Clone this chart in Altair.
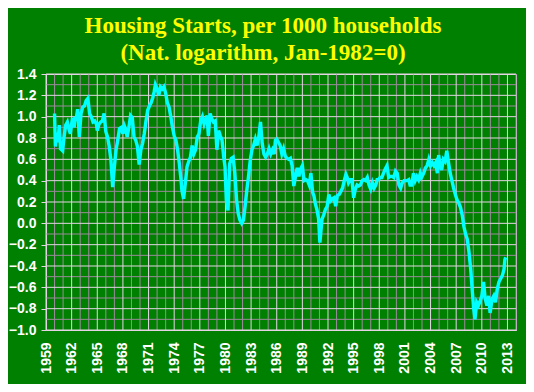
import altair as alt
import pandas as pd

title_lines = ["Housing Starts, per 1000 households", "(Nat. logarithm, Jan-1982=0)"]

years = [
    1960.0, 1960.1, 1960.25, 1960.4, 1960.55, 1960.7, 1960.95, 1961.1, 1961.3, 1961.5,
    1961.7, 1961.85, 1962.1, 1962.3, 1962.4, 1962.5, 1962.7, 1962.9, 1963.1, 1963.3,
    1963.5, 1963.7, 1963.9, 1964.1, 1964.3, 1964.5, 1964.7, 1964.9, 1965.0, 1965.2,
    1965.4, 1965.6, 1965.8, 1966.0, 1966.2, 1966.4, 1966.6, 1966.8, 1967.0, 1967.2,
    1967.4, 1967.6, 1967.8, 1968.0, 1968.15, 1968.3, 1968.5, 1968.7, 1968.9, 1969.1,
    1969.3, 1969.5, 1969.7, 1969.9, 1970.1, 1970.3, 1970.5, 1970.7, 1970.9, 1971.1,
    1971.3, 1971.5, 1971.65, 1971.8, 1972.0, 1972.2, 1972.4, 1972.6, 1972.8, 1973.0,
    1973.2, 1973.4, 1973.6, 1973.8, 1974.0, 1974.2, 1974.4, 1974.6, 1974.8, 1974.9,
    1975.1, 1975.3, 1975.5, 1975.7, 1975.9, 1976.1, 1976.3, 1976.5, 1976.7, 1976.9,
    1977.1, 1977.3, 1977.5, 1977.7, 1977.85, 1978.0, 1978.2, 1978.4, 1978.6, 1978.8,
    1979.0, 1979.2, 1979.4, 1979.6, 1979.8, 1979.95, 1980.1, 1980.3, 1980.5, 1980.7,
    1980.9, 1981.1, 1981.3, 1981.5, 1981.7, 1981.9, 1982.1, 1982.3, 1982.5, 1982.7,
    1982.9, 1983.1, 1983.3, 1983.5, 1983.7, 1983.9, 1984.1, 1984.3, 1984.5, 1984.7,
    1984.9, 1985.1, 1985.3, 1985.5, 1985.7, 1985.85, 1986.0, 1986.2, 1986.4, 1986.6,
    1986.8, 1987.0, 1987.2, 1987.4, 1987.6, 1987.8, 1988.0, 1988.2, 1988.4, 1988.6,
    1988.8, 1989.0, 1989.2, 1989.4, 1989.6, 1989.8, 1990.0, 1990.2, 1990.35, 1990.5,
    1990.7, 1990.9, 1991.05, 1991.3, 1991.5, 1991.7, 1991.9, 1992.1, 1992.3, 1992.5,
    1992.7, 1992.9, 1993.1, 1993.3, 1993.5, 1993.7, 1993.9, 1994.1, 1994.25, 1994.4,
    1994.6, 1994.8, 1995.0, 1995.2, 1995.4, 1995.6, 1995.8, 1996.0, 1996.2, 1996.4,
    1996.6, 1996.8, 1997.0, 1997.2, 1997.4, 1997.6, 1997.75, 1997.9, 1998.1, 1998.3,
    1998.5, 1998.7, 1998.9, 1999.1, 1999.3, 1999.5, 1999.7, 1999.9, 2000.1, 2000.3,
    2000.5, 2000.7, 2000.9, 2001.1, 2001.25, 2001.45, 2001.6, 2001.8, 2002.0, 2002.2,
    2002.4, 2002.6, 2002.8, 2002.95, 2003.2, 2003.4, 2003.6, 2003.8, 2004.0, 2004.2,
    2004.4, 2004.6, 2004.8, 2004.95, 2005.1, 2005.3, 2005.5, 2005.7, 2005.9, 2006.1,
    2006.3, 2006.5, 2006.7, 2006.9, 2007.1, 2007.3, 2007.5, 2007.7, 2007.9, 2008.1,
    2008.3, 2008.5, 2008.7, 2008.9, 2009.05, 2009.2, 2009.4, 2009.6, 2009.8, 2010.0,
    2010.2, 2010.4, 2010.6, 2010.8, 2010.97, 2011.2, 2011.4, 2011.6, 2011.8, 2012.0,
    2012.2, 2012.4, 2012.6, 2012.7, 2012.8,
]

values = [
    1.03, 0.72, 0.85, 0.76, 0.92, 0.70, 0.68, 0.80, 0.92, 0.95,
    0.88, 0.84, 0.99, 0.90, 1.00, 0.96, 1.07, 0.81, 1.03, 1.09,
    1.10, 1.15, 1.17, 1.03, 1.00, 0.95, 0.96, 0.93, 0.87, 0.93,
    0.95, 0.96, 1.03, 0.86, 0.81, 0.72, 0.59, 0.34, 0.53, 0.69,
    0.78, 0.89, 0.90, 0.84, 0.92, 0.89, 0.81, 0.90, 1.01, 0.99,
    0.81, 0.78, 0.72, 0.55, 0.69, 0.75, 0.84, 0.96, 1.06, 1.10,
    1.13, 1.18, 1.23, 1.30, 1.26, 1.20, 1.28, 1.26, 1.28, 1.22,
    1.13, 1.09, 1.00, 0.90, 0.82, 0.78, 0.69, 0.56, 0.41, 0.31,
    0.23, 0.37, 0.53, 0.58, 0.62, 0.73, 0.65, 0.69, 0.81, 0.84,
    0.96, 1.00, 0.93, 0.98, 1.01, 0.82, 1.03, 0.98, 0.95, 0.96,
    0.69, 0.87, 0.82, 0.78, 0.62, 0.53, 0.22, 0.12, 0.56, 0.61,
    0.62, 0.47, 0.22, 0.09, 0.03, 0.00, 0.03, 0.16, 0.31, 0.44,
    0.59, 0.69, 0.73, 0.79, 0.73, 0.81, 0.95, 0.75, 0.65, 0.62,
    0.65, 0.70, 0.65, 0.69, 0.65, 0.78, 0.79, 0.76, 0.73, 0.65,
    0.70, 0.63, 0.61, 0.60, 0.61, 0.54, 0.35, 0.44, 0.52, 0.44,
    0.51, 0.54, 0.40, 0.41, 0.40, 0.36, 0.47, 0.29, 0.26, 0.19,
    0.13, 0.04, -0.18, 0.04, 0.08, 0.13, 0.16, 0.27, 0.21, 0.23,
    0.24, 0.16, 0.26, 0.27, 0.30, 0.33, 0.40, 0.46, 0.43, 0.38,
    0.41, 0.41, 0.24, 0.32, 0.36, 0.35, 0.36, 0.40, 0.41, 0.40,
    0.43, 0.36, 0.32, 0.38, 0.33, 0.36, 0.41, 0.41, 0.43, 0.43,
    0.47, 0.51, 0.54, 0.43, 0.44, 0.44, 0.43, 0.49, 0.47, 0.36,
    0.33, 0.38, 0.40, 0.40, 0.40, 0.41, 0.36, 0.36, 0.47, 0.40,
    0.44, 0.41, 0.47, 0.43, 0.47, 0.52, 0.54, 0.60, 0.54, 0.57,
    0.54, 0.57, 0.47, 0.64, 0.55, 0.50, 0.60, 0.58, 0.68, 0.57,
    0.47, 0.40, 0.33, 0.27, 0.22, 0.19, 0.15, 0.08, -0.03, -0.10,
    -0.15, -0.27, -0.43, -0.65, -0.80, -0.90, -0.74, -0.77, -0.73, -0.68,
    -0.55, -0.71, -0.77, -0.68, -0.84, -0.71, -0.68, -0.74, -0.62, -0.55,
    -0.52, -0.49, -0.43, -0.34, -0.32,
]

label_years = [1959, 1962, 1965, 1968, 1971, 1974, 1977, 1980, 1983, 1986,
               1989, 1992, 1995, 1998, 2001, 2004, 2007, 2010, 2013]
minor_years = [y for y in range(1959, 2015) if y not in label_years]
major_y = [-1.0, -0.8, -0.6, -0.4, -0.2, 0.0, 0.2, 0.4, 0.6, 0.8, 1.0, 1.2, 1.4]
minor_y = [-0.9, -0.7, -0.5, -0.3, -0.1, 0.1, 0.3, 0.5, 0.7, 0.9, 1.1, 1.3]

BG = "#008000"
MINOR = "#9c8a9c"
MAJOR = "#e4d4e4"

xscale = alt.Scale(domain=[1959, 2014], nice=False, zero=False)
yscale = alt.Scale(domain=[-1.0, 1.4], nice=False, zero=False)

x_axis = alt.Axis(
    values=label_years,
    format="d",
    title=None,
    grid=False,
    ticks=False,
    tickSize=0,
    labelAngle=270,
    labelAlign="right",
    labelBaseline="middle",
    labelPadding=12,
    labelColor="white",
    labelFont="Liberation Sans",
    labelFontSize=14,
    labelFontWeight="bold",
    labelOverlap=False,
    domainColor=MAJOR,
)

y_axis = alt.Axis(
    values=major_y,
    format=".1f",
    title=None,
    grid=False,
    ticks=True,
    tickSize=5,
    tickColor=MAJOR,
    labelPadding=5,
    labelColor="white",
    labelFont="Liberation Sans",
    labelFontSize=14,
    labelFontWeight="bold",
    labelOverlap=False,
    domainColor=MAJOR,
)

X = lambda: alt.X("year:Q", scale=xscale, axis=x_axis, title=None)
Y = lambda: alt.Y("value:Q", scale=yscale, axis=y_axis, title=None)

df = pd.DataFrame({"year": years, "value": values})

minor_v = alt.Chart(pd.DataFrame({"year": minor_years})).mark_rule(
    color=MINOR, strokeWidth=1
).encode(x=X())

minor_h = alt.Chart(pd.DataFrame({"value": minor_y})).mark_rule(
    color=MINOR, strokeWidth=1
).encode(y=Y())

major_v = alt.Chart(pd.DataFrame({"year": label_years})).mark_rule(
    color=MAJOR, strokeWidth=1
).encode(x=X())

major_h = alt.Chart(pd.DataFrame({"value": major_y})).mark_rule(
    color=MAJOR, strokeWidth=1
).encode(y=Y())

line = alt.Chart(df).mark_line(color="#00ffff", strokeWidth=3.4).encode(x=X(), y=Y())

chart = (
    alt.layer(minor_v, minor_h, major_v, major_h, line)
    .properties(
        width=470,
        height=256,
        background=BG,
        padding={"left": 38, "top": 66, "right": 10, "bottom": 54},
        autosize=alt.AutoSizeParams(type="none"),
        title=alt.TitleParams(
            text=title_lines,
            color="#ffff00",
            font="Liberation Serif",
            fontSize=23,
            fontWeight="bold",
            lineHeight=27,
            anchor="middle",
            offset=2,
            dx=-18,
        ),
    )
    .configure_view(stroke=MAJOR, strokeWidth=1, fill=BG)
)

chart.save("out.html", embed_options={"renderer": "svg", "actions": False})
